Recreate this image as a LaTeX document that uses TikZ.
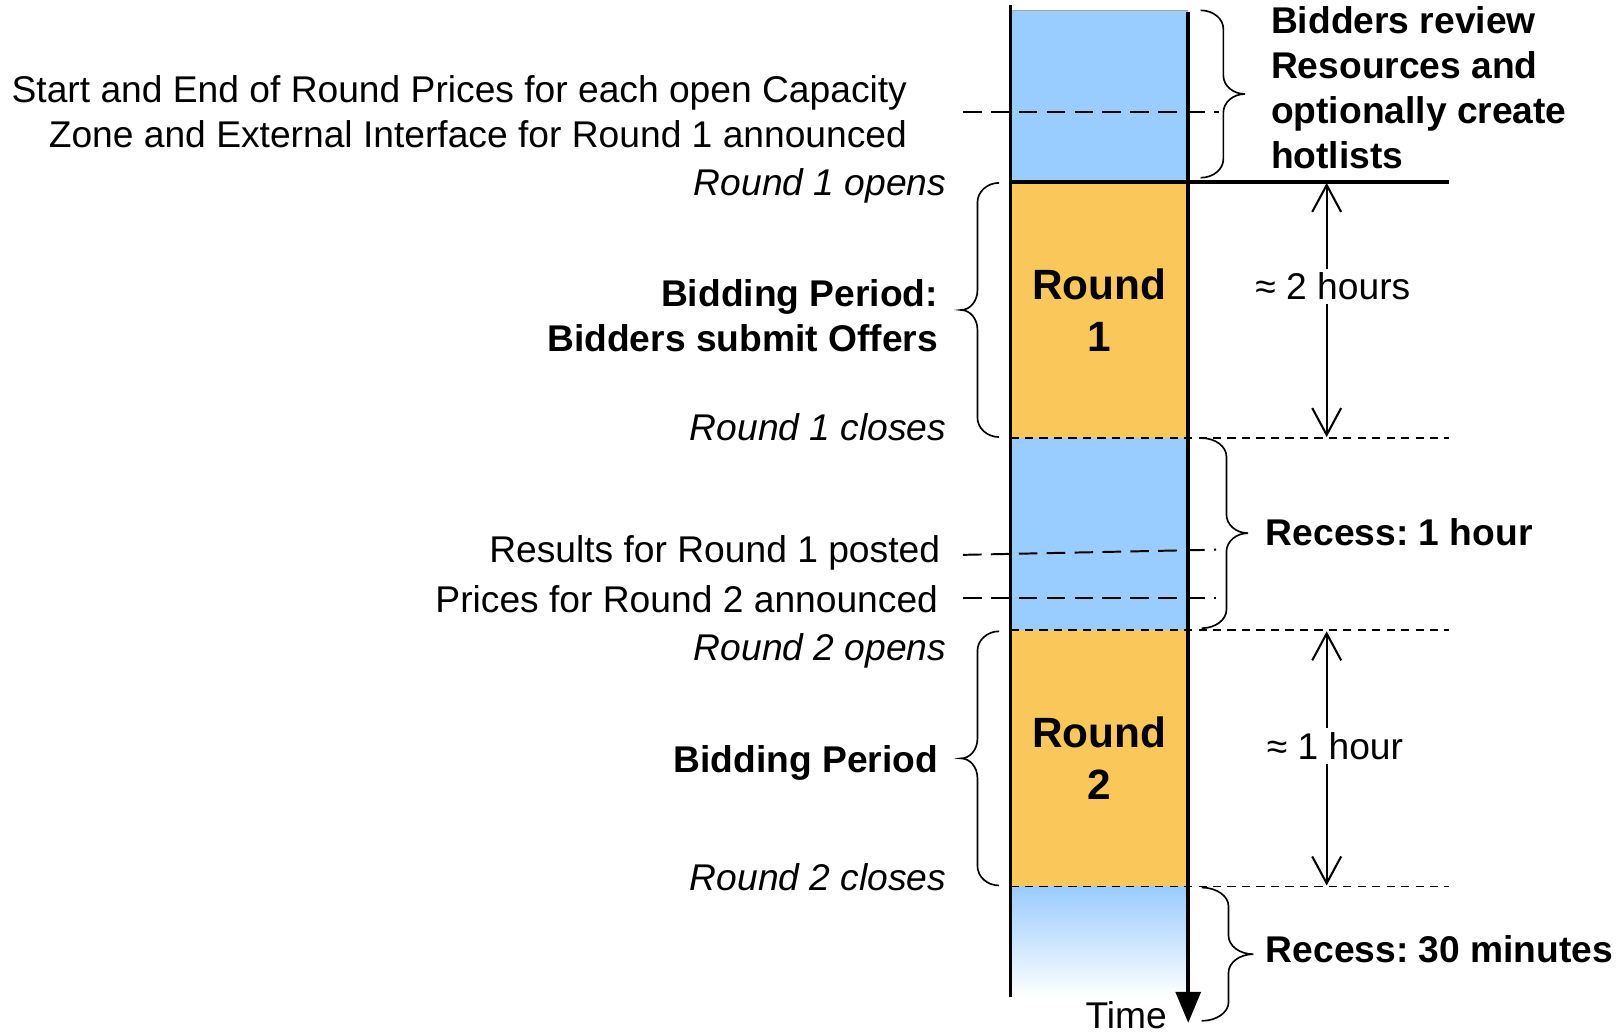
\documentclass[tikz,border=0pt]{standalone}
\usepackage{fontspec}
\setmainfont{Liberation Sans}
\frenchspacing
\usetikzlibrary{arrows.meta,calc}
\definecolor{rblue}{HTML}{99CCFF}
\definecolor{rorange}{HTML}{FAC85A}
% brace: x0, ya, yb, s (stem offset), t (tip offset), r (curl radius)
\newcommand{\BraceV}[6]{%
  \draw[brc] (#1,#2) .. controls ({#1+0.552*(#4)},#2) and ({#1+#4},{#2+0.448*(#6)}) .. ({#1+#4},{#2+#6})
   -- ({#1+#4},{(#2+#3)/2-#6}) .. controls ({#1+#4},{(#2+#3)/2-0.448*(#6)}) and ({#1+#4+0.448*(#5-#4)},{(#2+#3)/2}) .. ({#1+#5},{(#2+#3)/2})
   .. controls ({#1+#4+0.448*(#5-#4)},{(#2+#3)/2}) and ({#1+#4},{(#2+#3)/2+0.448*(#6)}) .. ({#1+#4},{(#2+#3)/2+#6})
   -- ({#1+#4},{#3-#6}) .. controls ({#1+#4},{#3-0.448*(#6)}) and ({#1+0.552*(#4)},#3) .. (#1,#3);}
\begin{document}
\begin{tikzpicture}[x=1pt,y=-1pt,
  seg/.style={minimum width=172pt, inner sep=0pt, outer sep=0pt, draw=none, align=center,
              font=\fontsize{41}{50}\selectfont\bfseries},
  txt/.style={inner sep=0pt, font=\fontsize{36}{43.6}\selectfont},
  itxt/.style={inner sep=0pt, font=\fontsize{36}{43.6}\selectfont\itshape},
  btxt/.style={inner sep=0pt, font=\fontsize{36}{43.6}\selectfont\bfseries},
  colline/.style={line width=3.3pt},
  sdash/.style={line width=1.7pt, dash pattern=on 8pt off 6pt},
  ldash/.style={line width=1.9pt, dash pattern=on 18pt off 9pt},
  brc/.style={line width=1.6pt},
  darr/.style={line width=2pt, {Straight Barb[length=26pt,width=28pt]}-{Straight Barb[length=26pt,width=28pt]}},
  lab/.style={inner sep=4pt, fill=white, font=\fontsize{36}{43.6}\selectfont}]
\useasboundingbox (0,0) rectangle (1565,1001);

% time column segments
\node[seg, fill=rblue, minimum height=166pt] (b0) at (1064,93) {};
\node[seg, fill=rorange, minimum height=248pt] (r1) at (1064,300) {Round\\1};
\node[seg, fill=rblue, minimum height=186pt] (b1) at (1064,517) {};
\node[seg, fill=rorange, minimum height=248pt] (r2) at (1064,734) {Round\\2};
\node[seg, top color=rblue, bottom color=white, minimum height=107pt] (b2) at (1064,911.5) {};
\draw[gray!70, line width=1pt] (b0.north west) -- (b0.north east);

% end points of the horizontal marks
\coordinate (e1) at (1402,176);
\coordinate (e2) at (1402,424);
\coordinate (e3) at (1402,610);
\coordinate (e4) at (1402,858);
\coordinate (d0a) at (932,108);  \coordinate (d0b) at (1180,108);
\coordinate (d1a) at (932,537);  \coordinate (d1b) at (1177,532);
\coordinate (d2a) at (932,579);  \coordinate (d2b) at (1177,579);

\draw[sdash] (r1.south west) -- (e2);
\draw[sdash] (r2.north west) -- (e3);
\draw[sdash] (r2.south west) -- (e4);
\draw[ldash] (d0a) -- (d0b);
\draw[ldash] (d1a) -- (d1b);
\draw[ldash] (d2a) -- (d2b);

% column lines
\draw[colline] ($(b0.north west)+(0,-5)$) -- (b2.south west);
\draw[line width=3.6pt, -{Triangle[length=30pt,width=24pt]}] ($(b0.north east)+(0,2)$) -- ($(b2.south east)+(0,25)$);
\draw[line width=3.3pt] (r1.north west) -- (e1);

% duration arrows
\coordinate (a1t) at (1284,177);  \coordinate (a1b) at (1284,423);
\coordinate (a2t) at (1284,611);  \coordinate (a2b) at (1284,857);
\draw[darr] (a1t) -- (a1b);
\draw[darr] (a2t) -- (a2b);
\node[lab, anchor=base] (h2) at (1290,290) {≈ 2 hours};
\node[lab, anchor=base] (h1) at (1292,735) {≈ 1 hour};

% braces
\BraceV{1162}{10}{172}{22}{43}{18}
\BraceV{1163}{424}{608}{24}{45}{18}
\BraceV{1163}{859}{988}{26}{50}{18}
\BraceV{967}{177}{423}{-21}{-37}{19}
\BraceV{967}{611}{857}{-21}{-37}{19}

% left labels
\node[txt, anchor=north east, align=right] (title) at (878,73)
  {Start and End of Round Prices for each open Capacity\\Zone and External Interface for Round 1 announced};
\node[itxt, anchor=base east] (o1) at (916,189) {Round 1 opens};
\node[btxt, anchor=north east, align=right] (bp1) at (908,270) {Bidding Period:\\Bidders submit Offers};
\node[itxt, anchor=base east] (c1) at (916,426) {Round 1 closes};
\node[txt, anchor=base east] (res) at (910,544) {Results for Round 1 posted};
\node[txt, anchor=base east] (pr2) at (908,593) {Prices for Round 2 announced};
\node[itxt, anchor=base east] (o2) at (916,639) {Round 2 opens};
\node[btxt, anchor=base east] (bp2) at (908,748) {Bidding Period};
\node[itxt, anchor=base east] (c2) at (916,862) {Round 2 closes};

% right labels
\node[btxt, anchor=north west, align=left] (rev) at (1230,6)
  {Bidders review\\Resources and\\optionally create\\hotlists};
\node[btxt, anchor=base west] (rec1) at (1225,528) {Recess: 1 hour};
\node[btxt, anchor=base west] (rec2) at (1225,932) {Recess: 30 minutes};
\node[txt, anchor=base] (time) at (1090,995) {Time};
\end{tikzpicture}
\end{document}
